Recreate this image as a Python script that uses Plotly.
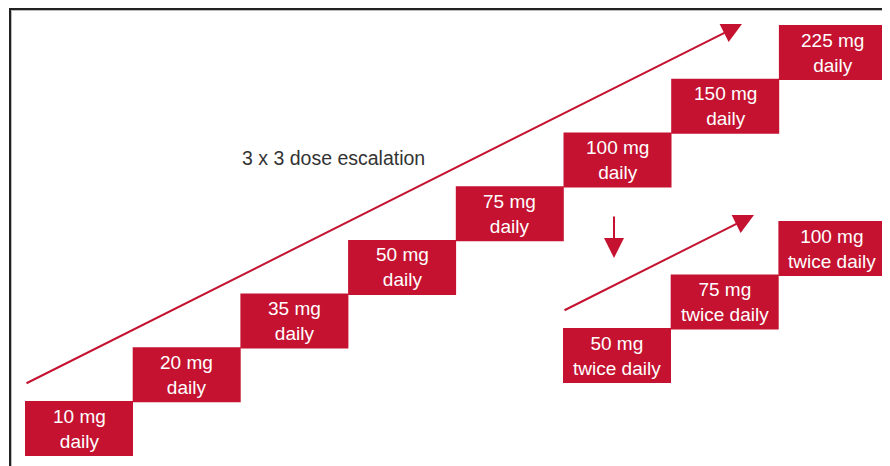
import plotly.graph_objects as go

# Data
daily_doses = ["10 mg", "20 mg", "35 mg", "50 mg", "75 mg", "100 mg", "150 mg", "225 mg"]
daily_freq = ["daily"] * len(daily_doses)
bid_doses = ["50 mg", "75 mg", "100 mg"]
bid_freq = ["twice daily"] * len(bid_doses)
escalation_label = "3 x 3 dose escalation"

RED = "#C41230"
SW, SH = 890, 466   # screen size
OFF = 8             # page body margin offset
W, H = SW - OFF, SH - OFF

# layout constants (screen-pixel coordinate system)
x0, y0 = 25, 401        # top-left of first daily box
step_x, step_y = 107.7, 53.7
bw, bh = 108, 55
bx0, by0 = 563, 328     # top-left of first twice-daily box
bstep_y = 53.5

d_left = [x0 + i * step_x for i in range(len(daily_doses))]
d_top = [y0 - i * step_y for i in range(len(daily_doses))]
b_left = [bx0 + j * step_x for j in range(len(bid_doses))]
b_top = [by0 - j * bstep_y for j in range(len(bid_doses))]

FONT = "Liberation Sans, Arial, sans-serif"

fig = go.Figure()
fig.add_trace(go.Bar(
    x=[l + bw / 2 for l in d_left], y=[bh] * len(d_left), base=d_top,
    width=bw, marker=dict(color=RED, line=dict(width=0)), hoverinfo="skip", showlegend=False))
fig.add_trace(go.Bar(
    x=[l + bw / 2 for l in b_left], y=[bh] * len(b_left), base=b_top,
    width=bw, marker=dict(color=RED, line=dict(width=0)), hoverinfo="skip", showlegend=False))

ann = []
for dose, freq, l, t in zip(daily_doses, daily_freq, d_left, d_top):
    ann.append(dict(x=l + bw / 2, y=t + bh / 2, xref="x", yref="y", text=f"{dose}<br>{freq}",
                    showarrow=False, font=dict(color="white", size=19, family=FONT),
                    align="center"))
for dose, freq, l, t in zip(bid_doses, bid_freq, b_left, b_top):
    ann.append(dict(x=l + bw / 2, y=t + bh / 2, xref="x", yref="y", text=f"{dose}<br>{freq}",
                    showarrow=False, font=dict(color="white", size=19, family=FONT),
                    align="center"))

ann.append(dict(x=333, y=158, xref="x", yref="y", text=escalation_label, showarrow=False,
                font=dict(color="#333333", size=19.5, family=FONT)))

arrow_common = dict(xref="x", yref="y", axref="x", ayref="y", text="", showarrow=True,
                    arrowhead=2, arrowsize=2, arrowwidth=2, arrowcolor=RED)
ann.append(dict(x=742, y=24, ax=25, ay=384, **arrow_common))
ann.append(dict(x=754, y=215, ax=563, ay=311, **arrow_common))
ann.append(dict(x=614, y=258, ax=614, ay=215, **arrow_common))

shapes = [
    dict(type="line", xref="x", yref="y", x0=9, x1=SW, y0=9, y1=9, line=dict(color="#222222", width=2)),
    dict(type="line", xref="x", yref="y", x0=11, x1=SW, y0=10.5, y1=10.5, line=dict(color="#bbbbbb", width=1)),
    dict(type="line", xref="x", yref="y", x0=10, x1=10, y0=8, y1=SH, line=dict(color="#222222", width=2)),
    dict(type="line", xref="x", yref="y", x0=11.5, x1=11.5, y0=10, y1=SH, line=dict(color="#bbbbbb", width=1)),
]

fig.update_layout(
    width=W, height=H, margin=dict(l=0, r=0, t=0, b=0),
    paper_bgcolor="white", plot_bgcolor="white",
    xaxis=dict(range=[OFF, SW], visible=False, fixedrange=True),
    yaxis=dict(range=[SH, OFF], visible=False, fixedrange=True),
    annotations=ann, shapes=shapes, barmode="overlay", showlegend=False,
)
fig.write_html("out.html")
